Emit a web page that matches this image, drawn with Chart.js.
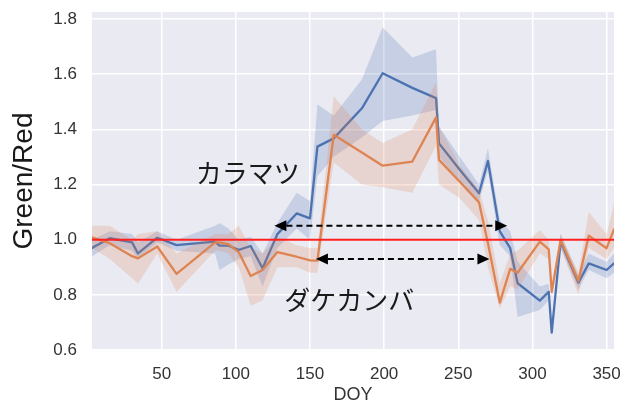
<!DOCTYPE html>
<html>
<head>
<meta charset="utf-8">
<script src="https://cdn.jsdelivr.net/npm/chart.js@4.4.1/dist/chart.umd.min.js"></script>
<style>
  html, body { margin: 0; padding: 0; background: #ffffff; }
  #wrap { width: 631px; height: 403px; }
</style>
</head>
<body>
<div id="wrap"><canvas id="c" width="631" height="403"></canvas></div>
<script>
// Day of year of each observation
const DOY = [3, 15, 30, 34, 47, 60, 86, 89, 95, 102, 110, 118, 128, 141, 150, 155, 166, 185, 199, 219,
             235, 237, 251, 264, 270, 278, 285, 290, 305, 311, 313, 319, 331, 338, 350, 355];

// カラマツ (larch): mean Green/Red ratio and its confidence band
const LARCH_MEAN  = [0.97, 1.005, 0.99, 0.95, 1.007, 0.98, 0.993, 0.978, 0.978, 0.963, 0.977, 0.896, 1.02, 1.095, 1.077, 1.337,
                     1.367, 1.476, 1.603, 1.55, 1.513, 1.349, 1.253, 1.168, 1.285, 1.03, 0.969, 0.842, 0.779, 0.811, 0.663, 0.993,
                     0.844, 0.914, 0.89, 0.914];
const LARCH_LOW   = [0.94, 0.98, 0.96, 0.93, 0.99, 0.96, 0.95, 0.89, 0.91, 0.93, 0.94, 0.83, 0.97, 1.04, 1.0, 1.23,
                     1.3, 1.37, 1.43, 1.45, 1.47, 1.3, 1.21, 1.14, 1.25, 0.98, 0.94, 0.72, 0.745, 0.78, 0.655, 0.97,
                     0.82, 0.89, 0.86, 0.88];
const LARCH_HIGH  = [1.0, 1.03, 1.02, 0.99, 1.03, 1.0, 1.05, 1.06, 1.04, 1.0, 1.01, 0.95, 1.06, 1.17, 1.14, 1.49,
                     1.45, 1.58, 1.77, 1.66, 1.69, 1.41, 1.3, 1.2, 1.33, 1.07, 1.03, 0.92, 0.83, 0.84, 0.67, 1.02,
                     0.87, 0.95, 0.92, 0.95];

// ダケカンバ (Erman's birch): mean Green/Red ratio and its confidence band
const BIRCH_MEAN  = [1.008, 0.987, 0.94, 0.932, 0.975, 0.876, 0.99, 0.99, 0.984, 0.954, 0.868, 0.89, 0.955, 0.938, 0.925, 0.924,
                     1.38, 1.316, 1.268, 1.283, 1.443, 1.289, 1.21, 1.135, 0.987, 0.772, 0.894, 0.88, 0.993, 0.965, 0.811, 0.999,
                     0.851, 1.014, 0.969, 1.037];
const BIRCH_LOW   = [0.97, 0.93, 0.86, 0.84, 0.95, 0.81, 0.96, 0.96, 0.95, 0.9, 0.76, 0.78, 0.9, 0.9, 0.88, 0.88,
                     1.28, 1.2, 1.19, 1.17, 1.34, 1.2, 1.15, 1.07, 0.9, 0.75, 0.83, 0.82, 0.95, 0.93, 0.79, 0.97,
                     0.8, 0.97, 0.93, 0.97];
const BIRCH_HIGH  = [1.05, 1.05, 1.0, 1.02, 1.03, 0.95, 1.02, 1.02, 1.02, 1.05, 0.97, 0.95, 1.01, 0.98, 0.97, 0.97,
                     1.52, 1.4, 1.35, 1.4, 1.57, 1.41, 1.27, 1.18, 1.07, 0.84, 0.95, 0.96, 1.035, 1.0, 0.83, 1.02,
                     0.88, 1.1, 1.02, 1.13];

// Reference level and axis settings
const REF_LEVEL = 1.0;
const X_MIN = 3, X_MAX = 355;
const Y_MIN = 0.6, Y_MAX = 1.825;
const X_TICKS = [50, 100, 150, 200, 250, 300, 350];
const Y_TICKS = [0.6, 0.8, 1.0, 1.2, 1.4, 1.6, 1.8];

// Growing-season spans marked with double arrows: [start DOY, end DOY, level]
const LARCH_SPAN = [126, 283, 1.05];
const BIRCH_SPAN = [154, 271, 0.93];

// Species labels: [text, DOY, level]
const LABELS = [
  ['カラマツ', 108, 1.242],
  ['ダケカンバ', 176.5, 0.781]
];

const BLUE = '#4C72B0', ORANGE = '#DD8452';
const BLUE_BAND = 'rgba(76,114,176,0.22)', ORANGE_BAND = 'rgba(221,132,82,0.22)';
const FONT = '"Liberation Sans", Arial, sans-serif';
const JP_FONT = '"Noto Sans CJK JP", "Noto Sans CJK SC", sans-serif';
const TEXT = '#333333';

const pts = ys => DOY.map((d, i) => ({ x: d, y: ys[i] }));

const plotBackground = {
  id: 'plotBackground',
  beforeDraw(chart) {
    const { ctx, chartArea: a } = chart;
    ctx.save();
    ctx.fillStyle = '#EAEAF2';
    ctx.fillRect(a.left, a.top, a.right - a.left, a.bottom - a.top);
    ctx.restore();
  }
};

function doubleArrow(ctx, x1, x2, y) {
  const head = 12, half = 5.5;
  ctx.save();
  ctx.strokeStyle = '#000';
  ctx.lineWidth = 2;
  ctx.setLineDash([6, 4]);
  ctx.beginPath();
  ctx.moveTo(x1 + head, y);
  ctx.lineTo(x2 - head, y);
  ctx.stroke();
  ctx.setLineDash([]);
  ctx.fillStyle = '#000';
  ctx.beginPath();
  ctx.moveTo(x1, y); ctx.lineTo(x1 + head, y - half); ctx.lineTo(x1 + head, y + half); ctx.closePath();
  ctx.fill();
  ctx.beginPath();
  ctx.moveTo(x2, y); ctx.lineTo(x2 - head, y - half); ctx.lineTo(x2 - head, y + half); ctx.closePath();
  ctx.fill();
  ctx.restore();
}

const annotations = {
  id: 'annotations',
  afterDatasetsDraw(chart) {
    const { ctx, scales: { x, y } } = chart;
    [LARCH_SPAN, BIRCH_SPAN].forEach(([a, b, lv]) => {
      doubleArrow(ctx, x.getPixelForValue(a), x.getPixelForValue(b), y.getPixelForValue(lv));
    });
    ctx.save();
    ctx.fillStyle = '#1a1a1a';
    ctx.font = '26px ' + JP_FONT;
    ctx.textAlign = 'center';
    ctx.textBaseline = 'middle';
    LABELS.forEach(([t, d, v]) => ctx.fillText(t, x.getPixelForValue(d), y.getPixelForValue(v)));
    ctx.restore();
  }
};

new Chart(document.getElementById('c'), {
  type: 'line',
  data: {
    datasets: [
      { data: pts(LARCH_HIGH), borderWidth: 0, pointRadius: 0, backgroundColor: BLUE_BAND, fill: '+1', order: 6 },
      { data: pts(LARCH_LOW), borderWidth: 0, pointRadius: 0, fill: false, order: 6 },
      { data: pts(LARCH_MEAN), borderColor: BLUE, borderWidth: 2.3, pointRadius: 0, fill: false, order: 5 },
      { data: pts(BIRCH_HIGH), borderWidth: 0, pointRadius: 0, backgroundColor: ORANGE_BAND, fill: '+1', order: 4 },
      { data: pts(BIRCH_LOW), borderWidth: 0, pointRadius: 0, fill: false, order: 4 },
      { data: pts(BIRCH_MEAN), borderColor: ORANGE, borderWidth: 2.3, pointRadius: 0, fill: false, order: 3 },
      { data: [{ x: X_MIN, y: REF_LEVEL }, { x: X_MAX, y: REF_LEVEL }], borderColor: '#ff1f1f', borderWidth: 2,
        pointRadius: 0, fill: false, order: 1 }
    ]
  },
  options: {
    responsive: false,
    animation: false,
    events: [],
    layout: { padding: { top: 12, right: 17, left: 0, bottom: 0 } },
    elements: { line: { tension: 0, borderJoinStyle: 'round', borderCapStyle: 'round' } },
    plugins: { legend: { display: false }, tooltip: { enabled: false } },
    scales: {
      x: {
        type: 'linear', min: X_MIN, max: X_MAX,
        afterBuildTicks: s => { s.ticks = X_TICKS.map(v => ({ value: v })); },
        afterFit: s => { s.height = 53; s.paddingLeft = 0; s.paddingRight = 0; },
        grid: { color: '#ffffff', lineWidth: 1.5, drawTicks: false },
        border: { display: false },
        ticks: { padding: 14, color: TEXT, font: { family: FONT, size: 17 }, callback: v => String(v), maxRotation: 0 },
        title: { display: true, text: 'DOY', color: TEXT, font: { family: FONT, size: 18 }, padding: { top: 3, bottom: -3 } }
      },
      y: {
        type: 'linear', min: Y_MIN, max: Y_MAX,
        afterBuildTicks: s => { s.ticks = Y_TICKS.map(v => ({ value: v })); },
        afterFit: s => { s.width = 92; s.paddingTop = 0; s.paddingBottom = 0; },
        grid: { color: '#ffffff', lineWidth: 1.5, drawTicks: false },
        border: { display: false },
        ticks: { padding: 15, color: TEXT, font: { family: FONT, size: 17 }, callback: v => Number(v).toFixed(1) },
        title: { display: true, text: 'Green/Red', color: '#1a1a1a', font: { family: FONT, size: 28 }, padding: { top: 7, bottom: 0 } }
      }
    }
  },
  plugins: [plotBackground, annotations]
});
</script>
</body>
</html>
